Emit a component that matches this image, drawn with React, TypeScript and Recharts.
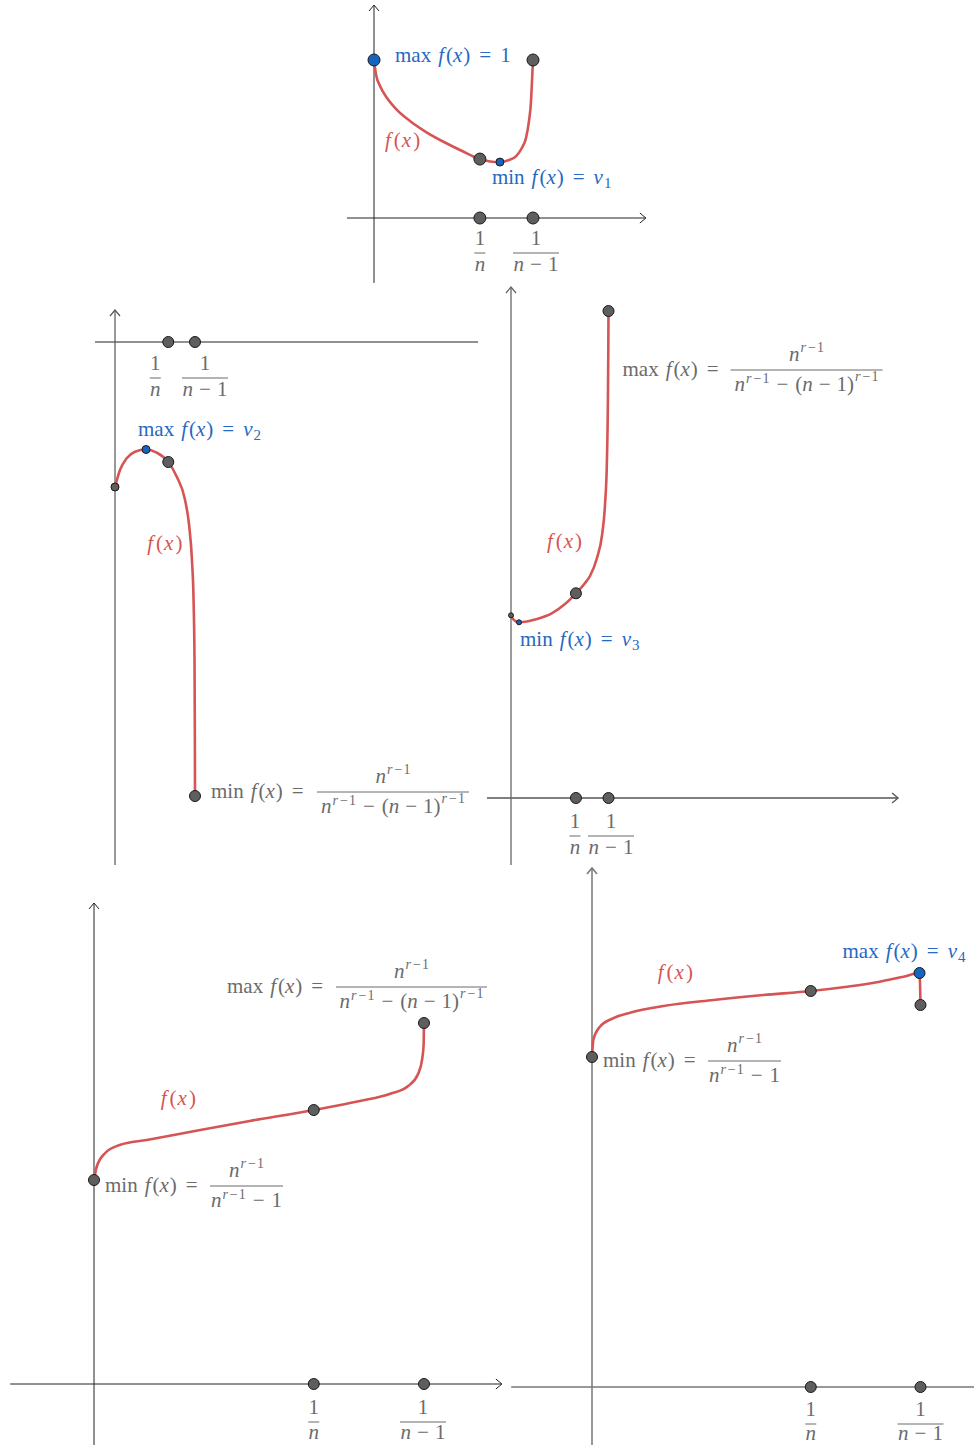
import React from 'react';
import { ComposedChart, Line, Scatter, XAxis, YAxis, ReferenceLine } from 'recharts';

const PAGE_W = 974;
const PAGE_H = 1445;
const FONT = '"Liberation Serif", "DejaVu Serif", serif';
const FS = 21;
const SUP = 14;

const RED = '#d65454';
const BLUE = '#1565c0';
const BLUE_TEXT = '#2668c2';
const GRAY_TEXT = '#6b6b6b';
const DOT_FILL = '#5e5e5e';
const DOT_EDGE = '#1a1a1a';

type Pt = { x: number; y: number };

// the two marked abscissas 1/n and 1/(n-1), drawn with n = 3
const axisMarks: Pt[] = [{ x: 0.333, y: 0 }, { x: 0.5, y: 0 }];

// panel 1: f falls to nu_1 then climbs back to 1
const curve1: Pt[] = [
  { x: 0, y: 1 }, { x: 0.006, y: 0.911 }, { x: 0.019, y: 0.835 }, { x: 0.041, y: 0.759 },
  { x: 0.072, y: 0.684 }, { x: 0.113, y: 0.614 }, { x: 0.164, y: 0.544 }, { x: 0.22, y: 0.481 },
  { x: 0.277, y: 0.424 }, { x: 0.333, y: 0.373 }, { x: 0.365, y: 0.358 }, { x: 0.396, y: 0.354 },
  { x: 0.425, y: 0.367 }, { x: 0.447, y: 0.392 }, { x: 0.465, y: 0.443 }, { x: 0.478, y: 0.506 },
  { x: 0.487, y: 0.608 }, { x: 0.494, y: 0.747 }, { x: 0.497, y: 0.873 }, { x: 0.5, y: 1 },
];
const critical1: Pt[] = [{ x: 0.333, y: 0.373 }, { x: 0.5, y: 1 }];
const max1: Pt[] = [{ x: 0, y: 1 }];
const min1: Pt[] = [{ x: 0.396, y: 0.354 }];

// panel 2: small bump up to nu_2 then a dive
const curve2: Pt[] = [
  { x: 0, y: -1.45 }, { x: 0.031, y: -1.28 }, { x: 0.073, y: -1.163 }, { x: 0.125, y: -1.097 },
  { x: 0.194, y: -1.075 }, { x: 0.261, y: -1.107 }, { x: 0.333, y: -1.2 }, { x: 0.386, y: -1.347 },
  { x: 0.438, y: -1.58 }, { x: 0.463, y: -1.83 }, { x: 0.481, y: -2.18 }, { x: 0.491, y: -2.58 },
  { x: 0.497, y: -3.18 }, { x: 0.499, y: -3.88 }, { x: 0.5, y: -4.54 },
];
const start2: Pt[] = [{ x: 0, y: -1.45 }];
const max2: Pt[] = [{ x: 0.194, y: -1.075 }];
const critical2: Pt[] = [{ x: 0.333, y: -1.2 }, { x: 0.5, y: -4.54 }];

// panel 3: shallow dip to nu_3 then a steep rise
const curve3: Pt[] = [
  { x: 0, y: 1.827 }, { x: 0.015, y: 1.78 }, { x: 0.041, y: 1.757 }, { x: 0.082, y: 1.765 },
  { x: 0.123, y: 1.785 }, { x: 0.209, y: 1.847 }, { x: 0.277, y: 1.94 }, { x: 0.333, y: 2.047 },
  { x: 0.379, y: 2.147 }, { x: 0.405, y: 2.22 }, { x: 0.441, y: 2.4 }, { x: 0.467, y: 2.63 },
  { x: 0.482, y: 2.93 }, { x: 0.492, y: 3.38 }, { x: 0.497, y: 3.98 }, { x: 0.499, y: 4.48 },
  { x: 0.5, y: 4.87 },
];
const start3: Pt[] = [{ x: 0, y: 1.827 }];
const min3: Pt[] = [{ x: 0.041, y: 1.757 }];
const critical3: Pt[] = [{ x: 0.333, y: 2.047 }, { x: 0.5, y: 4.87 }];

// panel 4: increasing
const curve4: Pt[] = [
  { x: 0, y: 2.04 }, { x: 0.004, y: 2.17 }, { x: 0.017, y: 2.31 }, { x: 0.039, y: 2.39 },
  { x: 0.08, y: 2.44 }, { x: 0.161, y: 2.54 }, { x: 0.236, y: 2.63 }, { x: 0.333, y: 2.74 },
  { x: 0.403, y: 2.83 }, { x: 0.448, y: 2.9 }, { x: 0.476, y: 2.98 }, { x: 0.491, y: 3.1 },
  { x: 0.497, y: 3.24 }, { x: 0.4994, y: 3.39 }, { x: 0.5, y: 3.61 },
];
const critical4: Pt[] = [{ x: 0, y: 2.04 }, { x: 0.333, y: 2.74 }, { x: 0.5, y: 3.61 }];

// panel 5: increasing to nu_4, then a drop right at 1/(n-1)
const curve5: Pt[] = [
  { x: 0, y: 3.3 }, { x: 0.002, y: 3.47 }, { x: 0.012, y: 3.603 }, { x: 0.032, y: 3.687 },
  { x: 0.058, y: 3.743 }, { x: 0.109, y: 3.81 }, { x: 0.185, y: 3.87 }, { x: 0.261, y: 3.92 },
  { x: 0.333, y: 3.96 }, { x: 0.388, y: 4.003 }, { x: 0.438, y: 4.053 }, { x: 0.474, y: 4.103 },
  { x: 0.4985, y: 4.14 }, { x: 0.5, y: 3.82 },
];
const critical5: Pt[] = [{ x: 0, y: 3.3 }, { x: 0.333, y: 3.96 }, { x: 0.5, y: 3.82 }];
const max5: Pt[] = [{ x: 0.4985, y: 4.14 }];

// ---------- math text helpers ----------
const textStyle = { fontFamily: FONT, fontSize: FS };

function Head({ op }: { op: string }) {
  return (
    <>
      <tspan>{op}</tspan>
      <tspan dx={7} fontStyle="italic">f</tspan>
      <tspan dx={2}>(</tspan>
      <tspan fontStyle="italic">x</tspan>
      <tspan dx={1}>)</tspan>
      <tspan dx={9}>=</tspan>
    </>
  );
}

function ValueLabel({ x, y, op, children }: any) {
  return (
    <text x={x} y={y} fill={BLUE_TEXT} style={textStyle}>
      <Head op={op} />
      {children}
    </text>
  );
}

function Nu({ k }: { k: string }) {
  return (
    <>
      <tspan dx={9} fontStyle="italic">ν</tspan>
      <tspan dx={1} dy={4} fontSize={15}>{k}</tspan>
    </>
  );
}

function FxLabel({ x, y }: { x: number; y: number }) {
  return (
    <text x={x} y={y} fill={RED} style={textStyle}>
      <tspan fontStyle="italic">f</tspan>
      <tspan dx={3}>(</tspan>
      <tspan dx={1} fontStyle="italic">x</tspan>
      <tspan dx={2}>)</tspan>
    </text>
  );
}

function Sup({ lift }: { lift: number }) {
  return (
    <>
      <tspan dy={-lift} dx={1} fontSize={SUP} fontStyle="italic">r</tspan>
      <tspan dx={2} fontSize={SUP}>−</tspan>
      <tspan dx={1} fontSize={SUP}>1</tspan>
    </>
  );
}

function FracLabel({ x, y, op, barDx, barW, long }: any) {
  const barY = y - 6;
  const cx = x + barDx + barW / 2;
  return (
    <g fill={GRAY_TEXT} style={textStyle}>
      <text x={x} y={y}>
        <Head op={op} />
      </text>
      <line x1={x + barDx} x2={x + barDx + barW} y1={barY} y2={barY} stroke={GRAY_TEXT} strokeWidth={1} />
      <text x={cx} y={barY - 9} textAnchor="middle">
        <tspan fontStyle="italic">n</tspan>
        <Sup lift={9} />
      </text>
      <text x={cx} y={barY + 21} textAnchor="middle">
        <tspan fontStyle="italic">n</tspan>
        <Sup lift={8} />
        <tspan dy={8} dx={7}>−</tspan>
        {long ? (
          <>
            <tspan dx={7}>(</tspan>
            <tspan fontStyle="italic">n</tspan>
            <tspan dx={6}>−</tspan>
            <tspan dx={6}>1</tspan>
            <tspan>)</tspan>
            <Sup lift={10} />
          </>
        ) : (
          <tspan dx={7}>1</tspan>
        )}
      </text>
    </g>
  );
}

function TickFrac({ x, y, wide, den = 18 }: { x: number; y: number; wide?: boolean; den?: number }) {
  const w = wide ? 46 : 11;
  return (
    <g fill={GRAY_TEXT} style={textStyle}>
      <text x={x} y={y - 8} textAnchor="middle">1</text>
      <line x1={x - w / 2} x2={x + w / 2} y1={y} y2={y} stroke={GRAY_TEXT} strokeWidth={1} />
      <text x={x} y={y + den} textAnchor="middle">
        <tspan fontStyle="italic">n</tspan>
        {wide && (
          <>
            <tspan dx={6}>−</tspan>
            <tspan dx={6}>1</tspan>
          </>
        )}
      </text>
    </g>
  );
}

// ---------- chart helpers ----------
const axisShape = (color: string, w: number, arrow: boolean) => (p: any) => {
  const { x1, y1, x2, y2 } = p;
  const len = Math.hypot(x2 - x1, y2 - y1) || 1;
  const ux = (x2 - x1) / len;
  const uy = (y2 - y1) / len;
  const a = 6;
  const b = 5;
  return (
    <g>
      <line x1={x1} y1={y1} x2={x2} y2={y2} stroke={color} strokeWidth={w} />
      {arrow && (
        <path
          d={`M${x2 - a * ux + b * uy},${y2 - a * uy - b * ux} L${x2},${y2} L${x2 - a * ux - b * uy},${y2 - a * uy + b * ux}`}
          fill="none"
          stroke={color}
          strokeWidth={w}
        />
      )}
    </g>
  );
};

function axes(key: string, ax: any) {
  return [
    <ReferenceLine
      key={key + 'x'}
      segment={[{ x: ax.x[0], y: 0 }, { x: ax.x[1], y: 0 }]}
      ifOverflow="visible"
      shape={axisShape(ax.xColor, ax.xWidth, ax.xArrow)}
    />,
    <ReferenceLine
      key={key + 'y'}
      segment={[{ x: 0, y: ax.y[0] }, { x: 0, y: ax.y[1] }]}
      ifOverflow="visible"
      shape={axisShape(ax.yColor, ax.yWidth, true)}
    />,
  ];
}

const dotShape = (r: number, fill: string) => (p: any) => (
  <circle cx={p.cx} cy={p.cy} r={r} fill={fill} stroke={DOT_EDGE} strokeWidth={1} />
);

function dots(key: string, data: Pt[], r: number, fill: string) {
  return <Scatter key={key} data={data} shape={dotShape(r, fill)} isAnimationActive={false} />;
}

function tag(key: string, at: Pt, render: (x: number, y: number) => React.ReactNode) {
  return (
    <Scatter key={key} data={[at]} isAnimationActive={false} shape={(p: any) => <g>{render(p.cx, p.cy)}</g>} />
  );
}

function curve(key: string, data: Pt[]) {
  return (
    <Line key={key} data={data} dataKey="y" type="monotone" stroke={RED} strokeWidth={2.6} dot={false} activeDot={false} isAnimationActive={false} />
  );
}

function panel(key: string, ox: number, oy: number, sx: number, sy: number, children: React.ReactNode[]) {
  const xDomain = [-ox / sx, (PAGE_W - ox) / sx];
  const yDomain = [(oy - PAGE_H) / sy, oy / sy];
  return (
    <div key={key} style={{ position: 'absolute', left: 0, top: 0 }}>
      <ComposedChart width={PAGE_W} height={PAGE_H} margin={{ top: 0, right: 0, bottom: 0, left: 0 }}>
        <XAxis type="number" dataKey="x" domain={xDomain} allowDataOverflow hide />
        <YAxis type="number" dataKey="y" domain={yDomain} allowDataOverflow hide />
        {children}
      </ComposedChart>
    </div>
  );
}

export default function App() {
  return (
    <div style={{ position: 'absolute', left: 0, top: 0, width: PAGE_W, height: PAGE_H, background: '#fff', overflow: 'hidden' }}>
      {panel('p1', 374, 218, 318, 158, [
        ...axes('a1', { x: [-0.085, 0.855], y: [-0.411, 1.348], xColor: '#222', yColor: '#222', xWidth: 1, yWidth: 1, xArrow: true }),
        curve('c1', curve1),
        dots('d1a', axisMarks, 6, DOT_FILL),
        dots('d1b', critical1, 6, DOT_FILL),
        dots('d1c', max1, 6, BLUE),
        dots('d1d', min1, 4, BLUE),
        tag('l1a', max1[0], (x, y) => (
          <ValueLabel x={x + 21} y={y + 2} op="max">
            <tspan dx={9}>1</tspan>
          </ValueLabel>
        )),
        tag('l1b', max1[0], (x, y) => <FxLabel x={x + 11} y={y + 87} />),
        tag('l1c', min1[0], (x, y) => (
          <ValueLabel x={x - 8} y={y + 22} op="min">
            <Nu k="1" />
          </ValueLabel>
        )),
        tag('t1a', axisMarks[0], (x, y) => <TickFrac x={x} y={y + 35} />),
        tag('t1b', axisMarks[1], (x, y) => <TickFrac x={x + 3} y={y + 35} wide />),
      ])}
      {panel('p2', 115, 342, 160, 100, [
        ...axes('a2', { x: [-0.125, 2.269], y: [-5.23, 0.32], xColor: '#222', yColor: '#555', xWidth: 1, yWidth: 1.2, xArrow: false }),
        curve('c2', curve2),
        dots('d2a', axisMarks, 5.5, DOT_FILL),
        dots('d2b', critical2, 5.5, DOT_FILL),
        dots('d2c', start2, 4, DOT_FILL),
        dots('d2d', max2, 4, BLUE),
        tag('l2a', max2[0], (x, y) => (
          <ValueLabel x={x - 8} y={y - 14} op="max">
            <Nu k="2" />
          </ValueLabel>
        )),
        tag('l2b', critical2[0], (x, y) => <FxLabel x={x - 21} y={y + 88} />),
        tag('l2c', critical2[1], (x, y) => <FracLabel x={x + 16} y={y + 2} op="min" barDx={106} barW={152} long />),
        tag('t2a', axisMarks[0], (x, y) => <TickFrac x={x - 13} y={y + 36} />),
        tag('t2b', axisMarks[1], (x, y) => <TickFrac x={x + 10} y={y + 36} wide />),
      ])}
      {panel('p3', 511, 798, 195, 100, [
        ...axes('a3', { x: [-0.123, 1.985], y: [-0.67, 5.11], xColor: '#555', yColor: '#666', xWidth: 1.3, yWidth: 1.3, xArrow: true }),
        curve('c3', curve3),
        dots('d3a', axisMarks, 5.5, DOT_FILL),
        dots('d3b', critical3, 5.5, DOT_FILL),
        dots('d3c', start3, 2.5, DOT_FILL),
        dots('d3d', min3, 2.5, BLUE),
        tag('l3a', critical3[1], (x, y) => <FracLabel x={x + 14} y={y + 65} op="max" barDx={108} barW={152} long />),
        tag('l3b', critical3[0], (x, y) => <FxLabel x={x - 29} y={y - 45} />),
        tag('l3c', min3[0], (x, y) => (
          <ValueLabel x={x + 1} y={y + 24} op="min">
            <Nu k="3" />
          </ValueLabel>
        )),
        tag('t3a', axisMarks[0], (x, y) => <TickFrac x={x - 1} y={y + 38} />),
        tag('t3b', axisMarks[1], (x, y) => <TickFrac x={x + 2.5} y={y + 38} wide />),
      ])}
      {panel('p4', 94, 1384, 660, 100, [
        ...axes('a4', { x: [-0.127, 0.618], y: [-0.61, 4.81], xColor: '#222', yColor: '#222', xWidth: 1, yWidth: 1, xArrow: true }),
        curve('c4', curve4),
        dots('d4a', axisMarks, 5.5, DOT_FILL),
        dots('d4b', critical4, 5.5, DOT_FILL),
        tag('l4a', critical4[2], (x, y) => <FracLabel x={x - 197} y={y - 30} op="max" barDx={109} barW={151} long />),
        tag('l4b', critical4[1], (x, y) => <FxLabel x={x - 153} y={y - 5} />),
        tag('l4c', critical4[0], (x, y) => <FracLabel x={x + 11} y={y + 12} op="min" barDx={105} barW={73} />),
        tag('t4a', axisMarks[0], (x, y) => <TickFrac x={x} y={y + 38} den={17} />),
        tag('t4b', axisMarks[1], (x, y) => <TickFrac x={x - 1} y={y + 38} den={17} wide />),
      ])}
      {panel('p5', 592, 1387, 657, 100, [
        ...axes('a5', { x: [-0.123, 0.6], y: [-0.58, 5.19], xColor: '#777', yColor: '#777', xWidth: 1.6, yWidth: 1.5, xArrow: false }),
        curve('c5', curve5),
        dots('d5a', axisMarks, 5.5, DOT_FILL),
        dots('d5b', critical5, 5.5, DOT_FILL),
        dots('d5c', max5, 5.5, BLUE),
        tag('l5a', max5[0], (x, y) => (
          <ValueLabel x={x - 77} y={y - 15} op="max">
            <Nu k="4" />
          </ValueLabel>
        )),
        tag('l5b', critical5[1], (x, y) => <FxLabel x={x - 153} y={y - 12} />),
        tag('l5c', critical5[0], (x, y) => <FracLabel x={x + 11} y={y + 10} op="min" barDx={105} barW={73} />),
        tag('t5a', axisMarks[0], (x, y) => <TickFrac x={x} y={y + 37} den={16} />),
        tag('t5b', axisMarks[1], (x, y) => <TickFrac x={x} y={y + 37} den={16} wide />),
      ])}
    </div>
  );
}
